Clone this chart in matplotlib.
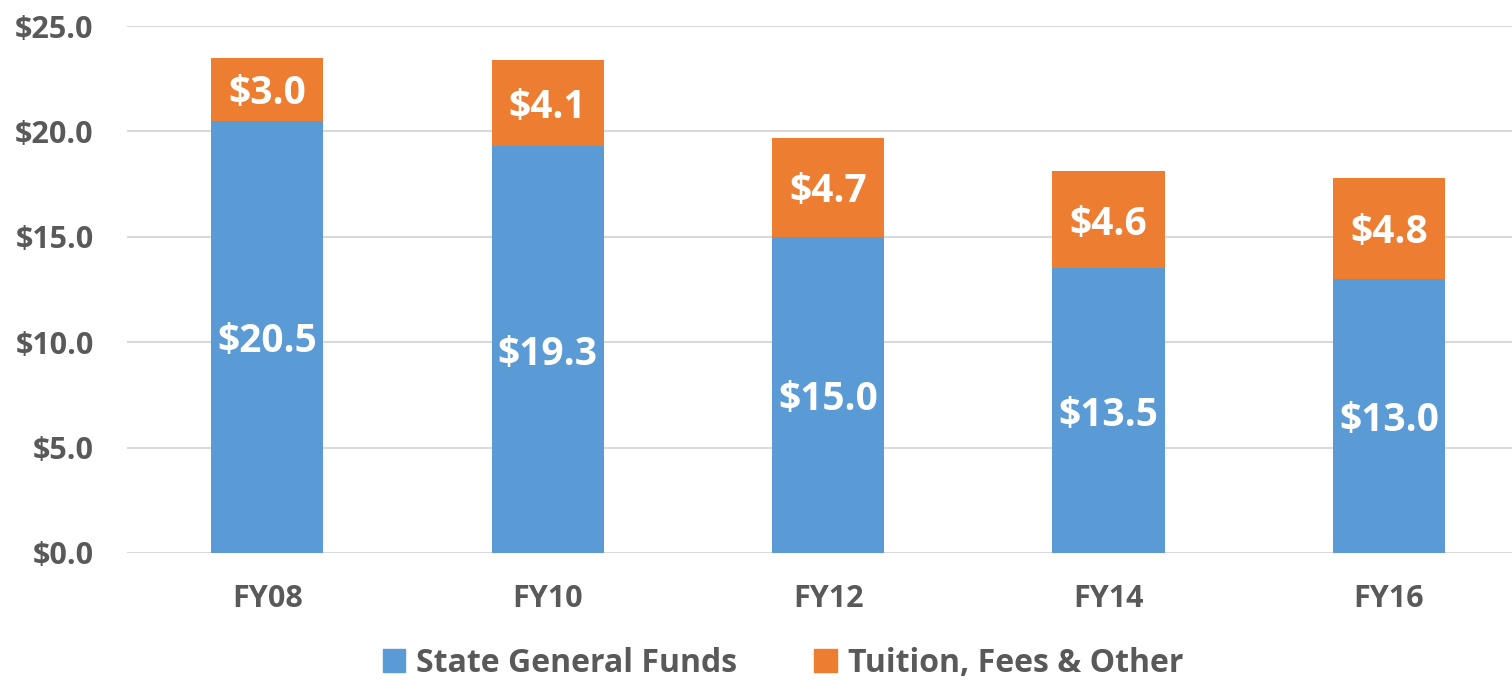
import numpy as np
import matplotlib
matplotlib.use("Agg")
import matplotlib.pyplot as plt
from matplotlib.patches import Patch

years = ["FY08", "FY10", "FY12", "FY14", "FY16"]
state_funds = [20.5, 19.3, 15.0, 13.5, 13.0]
tuition = [3.0, 4.1, 4.7, 4.6, 4.8]
series_names = ["State General Funds", "Tuition, Fees & Other"]

BLUE = "#5B9BD5"
ORANGE = "#ED7D31"
GREY = "#595959"

plt.rcParams["font.family"] = ["Open Sans", "DejaVu Sans"]

fig = plt.figure(figsize=(15.12, 6.81), dpi=100)
ax = fig.add_axes([127 / 1512, 1 - 553 / 681, (1512 - 127) / 1512, (553 - 26) / 681])

x = np.arange(len(years))
width = 0.40
bars_a = ax.bar(x, state_funds, width, color=BLUE, zorder=3)
bars_b = ax.bar(x, tuition, width, bottom=state_funds, color=ORANGE, zorder=3)

# value labels centred in each segment
for bars, vals in ((bars_a, state_funds), (bars_b, tuition)):
    for b, v in zip(bars, vals):
        ax.text(b.get_x() + b.get_width() / 2, b.get_y() + b.get_height() / 2,
                f"${v:.1f}", ha="center", va="center_baseline", color="white",
                fontsize=28, fontweight="bold", zorder=4)

ax.set_ylim(0, 25)
ax.set_xlim(-0.50, (1512 - 267) / 280.5)
yt = np.arange(0, 25.1, 5)
ax.set_yticks(yt)
ax.set_yticklabels([f"${t:.1f}" for t in yt])
ax.set_xticks(x)
ax.set_xticklabels(years)

for lbl in ax.get_yticklabels() + ax.get_xticklabels():
    lbl.set_fontsize(22)
    lbl.set_fontweight("bold")
    lbl.set_color(GREY)

ax.tick_params(axis="both", length=0)
ax.tick_params(axis="y", pad=24)
ax.tick_params(axis="x", pad=22)
ax.yaxis.grid(True, color="#D9D9D9", linewidth=1.5, zorder=0)
for s in ax.spines.values():
    s.set_visible(False)

handles = [Patch(color=BLUE), Patch(color=ORANGE)]
leg = fig.legend(handles, series_names, loc="center", bbox_to_anchor=(783 / 1512, 1 - 663 / 681),
                 ncol=2, frameon=False, fontsize=23, handlelength=0.7, handleheight=0.7,
                 handletextpad=0.35, columnspacing=2.4)
for t in leg.get_texts():
    t.set_color(GREY)
    t.set_fontweight("bold")

fig.savefig("out.png", dpi=100)
plt.close(fig)
